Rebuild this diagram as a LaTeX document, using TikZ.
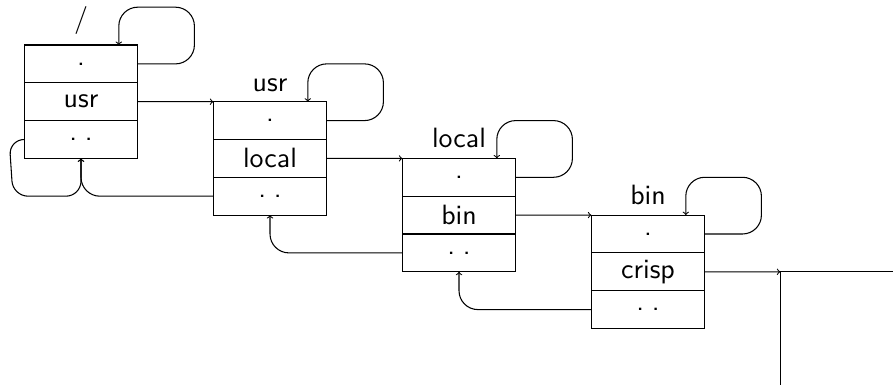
\documentclass[tikz,border=0pt]{standalone}
\usepackage{fontspec}
\setsansfont{lmsans10-regular.otf}
\usetikzlibrary{calc}
\newcommand{\dotdot}{.\kern0.28em.}
\begin{document}
\begin{tikzpicture}[
  line width=0.8pt,
  every node/.style={font=\sffamily\fontsize{21}{25}\selectfont},
  cell/.style={draw, rectangle, minimum width=3cm, minimum height=1cm,
               inner sep=0pt, outer sep=0pt, anchor=north west},
  dirname/.style={anchor=south, inner sep=0pt, yshift=7.3pt},
  link/.style={->, rounded corners=0.5cm}
]
\useasboundingbox (0,0) rectangle (23.624,-10.185);
\clip (0,0) rectangle (23.624,-10.185);

% directory /
\node[cell] (r0a) at (0.643,-1.19) {.};
\node[cell] (r0b) at (r0a.south west) {usr};
\node[cell] (r0c) at (r0b.south west) {\dotdot};
\node[dirname] (l0) at (r0a.north) {/};

% directory usr
\node[cell] (r1a) at (5.643,-2.69) {.};
\node[cell] (r1b) at (r1a.south west) {local};
\node[cell] (r1c) at (r1b.south west) {\dotdot};
\node[dirname] (l1) at (r1a.north) {usr};

% directory local
\node[cell] (r2a) at (10.643,-4.19) {.};
\node[cell] (r2b) at (r2a.south west) {bin};
\node[cell] (r2c) at (r2b.south west) {\dotdot};
\node[dirname] (l2) at (r2a.north) {local};

% directory bin
\node[cell] (r3a) at (15.643,-5.69) {.};
\node[cell] (r3b) at (r3a.south west) {crisp};
\node[cell] (r3c) at (r3b.south west) {\dotdot};
\node[dirname] (l3) at (r3a.north) {bin};

% file crisp
\node[cell, minimum height=3cm] (f4) at (20.643,-7.19) {};

% "." entries loop back into their own directory
\foreach \i in {0,1,2,3}{
  \coordinate (t\i) at ($(r\i a.north east)+(-0.5,0)$);
  \draw[link] (r\i a.east) -| ++(1.5,1.5) -| (t\i);
}

% name entries pointing to the next directory
\draw[->] (r0b.east) -- (r1a.north west);
\draw[->] (r1b.east) -- (r2a.north west);
\draw[->] (r2b.east) -- (r3a.north west);
\draw[->] (r3b.east) -- (f4.north west);

% ".." entries pointing back to the parent
\draw[link] (r1c.west) -| (r0c.south);
\draw[link] (r2c.west) -| (r1c.south);
\draw[link] (r3c.west) -| (r2c.south);
\draw[->, rounded corners=0.4cm] (r0c.west) -- ++(-0.4,0) -- ++(0.1,-1.5) -| (r0c.south);
\end{tikzpicture}
\end{document}
